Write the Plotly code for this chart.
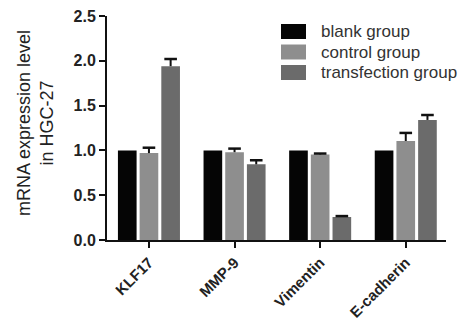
import plotly.graph_objects as go

categories = ["KLF17", "MMP-9", "Vimentin", "E-cadherin"]
groups = ["blank group", "control group", "transfection group"]
blank_vals = [1.0, 1.0, 1.0, 1.0]
control_vals = [0.97, 0.98, 0.955, 1.105]
control_err = [0.06, 0.04, 0.01, 0.09]
transf_vals = [1.94, 0.845, 0.257, 1.34]
transf_err = [0.08, 0.045, 0.01, 0.055]
colors = ["#050505", "#8e8e8e", "#6b6b6b"]
y_ticks = [0.0, 0.5, 1.0, 1.5, 2.0, 2.5]

W, H = 473, 320
L, R, T, B = 107, 446, 16, 240

def px_x(p):
    return (p - L) / (R - L)

def px_y(p):
    return (B - p) / (B - T)

fig = go.Figure()
series = [(blank_vals, None), (control_vals, control_err), (transf_vals, transf_err)]
for i, (vals, errs) in enumerate(series):
    kw = {}
    if errs is not None:
        kw["error_y"] = dict(type="data", array=errs, arrayminus=[0] * len(errs),
                             symmetric=False, color="#111", thickness=2, width=0)
    fig.add_trace(go.Bar(x=categories, y=vals, name=groups[i], offsetgroup=str(i),
                         marker=dict(color=colors[i], line=dict(width=0)), **kw))
# caps on top of the error bars only
for i, (vals, errs) in enumerate(series):
    tops = [v + (e if errs is not None else 0) for v, e in zip(vals, errs or [0] * len(vals))]
    fig.add_trace(go.Scatter(x=categories, y=tops, mode="markers", offsetgroup=str(i),
                             showlegend=False, hoverinfo="skip",
                             marker=dict(symbol="line-ew", size=9,
                                         opacity=0 if errs is None else 1,
                                         line=dict(width=2.5, color="#111"))))

font_family = "Liberation Sans, Arial, sans-serif"

row_centers = [31.5, 52, 72.5]
shapes = []
annotations = []
for i, g in enumerate(groups):
    yc = row_centers[i]
    shapes.append(dict(type="rect", xref="paper", yref="paper",
                       x0=px_x(281), x1=px_x(306), y0=px_y(yc + 7.5), y1=px_y(yc - 7.5),
                       fillcolor=colors[i], line=dict(width=0)))
    annotations.append(dict(text=g, xref="paper", yref="paper", x=px_x(319), y=px_y(yc),
                            xanchor="left", yanchor="middle", showarrow=False,
                            font=dict(family=font_family, size=17, color="#333")))

annotations.append(dict(text="mRNA expression level<br>in HGC-27", xref="paper", yref="paper",
                        x=px_x(35), y=px_y(123), xanchor="center", yanchor="middle",
                        textangle=-90, showarrow=False,
                        font=dict(family=font_family, size=18, color="#222")))

fig.update_layout(
    width=W, height=H,
    margin=dict(l=L, r=W - R, t=T, b=H - B, pad=0),
    paper_bgcolor="white", plot_bgcolor="white",
    barmode="group", bargap=0.24, bargroupgap=0.14,
    scattermode="group", scattergap=0.24,
    showlegend=False,
    shapes=shapes, annotations=annotations,
    font=dict(family=font_family, color="#222"),
)
fig.update_xaxes(range=[-0.49, 3.47], showline=True, linecolor="#111", linewidth=2,
                 ticks="outside", ticklen=6, tickwidth=2, tickcolor="#111",
                 tickangle=-45, showgrid=False, zeroline=False, automargin=False,
                 tickfont=dict(family=font_family, size=15, color="#222", weight="bold"))
fig.update_yaxes(range=[0, 2.5], tickvals=y_ticks, ticktext=[f"{v:.1f}" for v in y_ticks],
                 showline=True, linecolor="#111", linewidth=2,
                 ticks="outside", ticklen=6, tickwidth=2, tickcolor="#111",
                 showgrid=False, zeroline=False, automargin=False,
                 tickfont=dict(family=font_family, size=16, color="#222", weight="bold"))

fig.write_html("out.html", config={"displayModeBar": False},
               post_script="document.body.style.margin='0';")
